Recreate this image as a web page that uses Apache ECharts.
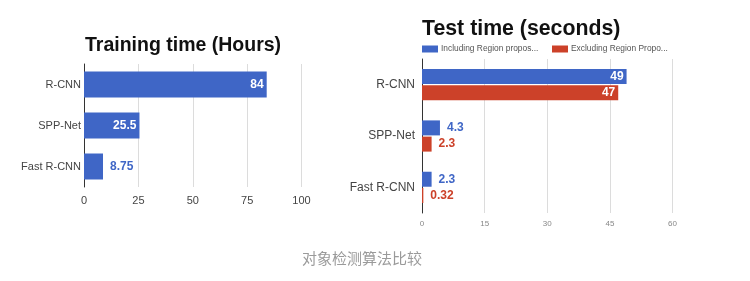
<!DOCTYPE html>
<html>
<head>
<meta charset="utf-8">
<script src="https://cdn.jsdelivr.net/npm/echarts@6/dist/echarts.min.js"></script>
<style>html,body{margin:0;padding:0;background:#fff}#c{width:750px;height:281px}</style>
</head>
<body>
<div id="c"></div>
<script>
const categories = ['R-CNN', 'SPP-Net', 'Fast R-CNN'];
const trainingHours = [84, 25.5, 8.75];
const testIncluding = [49, 4.3, 2.3];
const testExcluding = [47, 2.3, 0.32];
const leftTicks = [0, 25, 50, 75, 100];
const rightTicks = [0, 15, 30, 45, 60];
const seriesNames = ['Including Region propos...', 'Excluding Region Propo...'];
const titleLeft = 'Training time (Hours)';
const titleRight = 'Test time (seconds)';
const caption = '对象检测算法比较';

const BLUE = '#3f66c6';
const RED = '#cc4129';
const FONT = '"Liberation Sans", Arial, sans-serif';

function labelled(values, color, max) {
  return values.map(v => {
    const inside = v > max * 0.2;
    return {
      value: v,
      label: {
        show: true,
        position: inside ? 'insideRight' : 'right',
        distance: inside ? 3 : 7,
        color: inside ? '#fff' : color,
        fontWeight: 'bold',
        fontSize: 12,
        fontFamily: FONT
      }
    };
  });
}

const chart = echarts.init(document.getElementById('c'), null, {renderer: 'canvas'});
chart.setOption({
  animation: false,
  backgroundColor: '#fff',
  title: [
    {text: titleLeft, left: 85, top: 36, padding: 0,
     textStyle: {fontSize: 19.5, fontWeight: 'bold', color: '#111', fontFamily: FONT}},
    {text: titleRight, left: 422, top: 19, padding: 0,
     textStyle: {fontSize: 21.3, fontWeight: 'bold', color: '#111', fontFamily: FONT}},
    {text: caption, left: 357, top: 246, textAlign: 'center',
     textStyle: {fontSize: 15, fontWeight: 'normal', color: '#9a9a9a', fontFamily: '"Noto Sans CJK SC", sans-serif'}}
  ],
  legend: [
    {data: [seriesNames[0]], left: 422, top: 45, itemWidth: 16, itemHeight: 7, itemGap: 4,
     icon: 'rect', textStyle: {fontSize: 8.4, color: '#555', fontFamily: FONT, padding: [0, 0, 0, -2]}, padding: 0},
    {data: [seriesNames[1]], left: 552, top: 45, itemWidth: 16, itemHeight: 7, itemGap: 4,
     icon: 'rect', textStyle: {fontSize: 8.4, color: '#555', fontFamily: FONT, padding: [0, 0, 0, -2]}, padding: 0}
  ],
  grid: [
    {left: 84, top: 64, width: 217.5, height: 123, containLabel: false},
    {left: 422, top: 59, width: 250.5, height: 154, containLabel: false}
  ],
  xAxis: [
    {gridIndex: 0, type: 'value', min: leftTicks[0], max: leftTicks[leftTicks.length - 1], interval: 25,
     axisLine: {show: false}, axisTick: {show: false},
     splitLine: {lineStyle: {color: '#dcdcdc', width: 1}},
     axisLabel: {fontSize: 11, color: '#444', margin: 8, fontFamily: FONT}},
    {gridIndex: 1, type: 'value', min: rightTicks[0], max: rightTicks[rightTicks.length - 1], interval: 15,
     axisLine: {show: false}, axisTick: {show: false},
     splitLine: {lineStyle: {color: '#dcdcdc', width: 1}},
     axisLabel: {fontSize: 8, color: '#888', margin: 7, fontFamily: FONT}}
  ],
  yAxis: [
    {gridIndex: 0, type: 'category', data: categories, inverse: true,
     axisLine: {show: true, lineStyle: {color: '#333', width: 1}}, axisTick: {show: false},
     axisLabel: {fontSize: 11, color: '#444', margin: 3, fontFamily: FONT}},
    {gridIndex: 1, type: 'category', data: categories, inverse: true,
     axisLine: {show: true, lineStyle: {color: '#333', width: 1}}, axisTick: {show: false},
     axisLabel: {fontSize: 12, color: '#444', margin: 7, fontFamily: FONT}}
  ],
  series: [
    {name: 'Training', type: 'bar', xAxisIndex: 0, yAxisIndex: 0, barWidth: 26,
     itemStyle: {color: BLUE}, data: labelled(trainingHours, BLUE, 100)},
    {name: seriesNames[0], type: 'bar', xAxisIndex: 1, yAxisIndex: 1, barWidth: 15, barGap: '8%',
     itemStyle: {color: BLUE}, data: labelled(testIncluding, BLUE, 60)},
    {name: seriesNames[1], type: 'bar', xAxisIndex: 1, yAxisIndex: 1, barWidth: 15, barGap: '8%',
     itemStyle: {color: RED}, data: labelled(testExcluding, RED, 60)}
  ]
});
</script>
</body>
</html>
